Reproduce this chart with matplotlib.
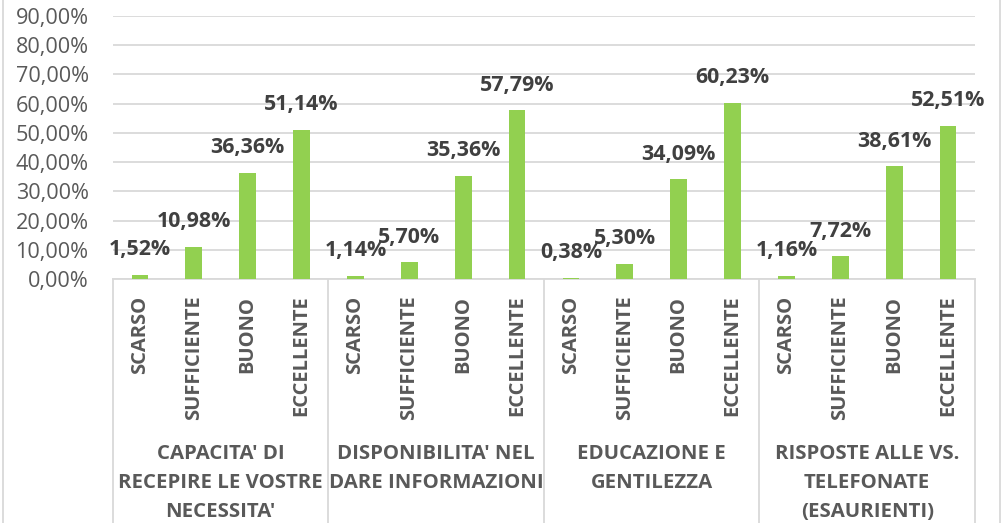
import numpy as np
import matplotlib.pyplot as plt
from matplotlib.lines import Line2D
from matplotlib.ticker import FuncFormatter
from matplotlib.transforms import blended_transform_factory

plt.rcParams['font.family'] = ['Open Sans', 'DejaVu Sans']

# Dati del grafico
gruppi = ["CAPACITA' DI\nRECEPIRE LE VOSTRE\nNECESSITA'",
          "DISPONIBILITA' NEL\nDARE INFORMAZIONI",
          "EDUCAZIONE E\nGENTILEZZA",
          "RISPOSTE ALLE VS.\nTELEFONATE\n(ESAURIENTI)"]
giudizi = ["SCARSO", "SUFFICIENTE", "BUONO", "ECCELLENTE"]
capacita = [1.52, 10.98, 36.36, 51.14]
disponibilita = [1.14, 5.70, 35.36, 57.79]
educazione = [0.38, 5.30, 34.09, 60.23]
risposte = [1.16, 7.72, 38.61, 52.51]

valori = np.array(capacita + disponibilita + educazione + risposte) / 100
etichette = giudizi * len(gruppi)
x = np.arange(len(valori))

verde = "#92D050"
grigio_testo = "#595959"
grigio_linee = "#D9D9D9"

fig = plt.figure(figsize=(10.04, 5.23), dpi=100)
ax = fig.add_axes([113 / 1004, 1 - 279 / 523, 862 / 1004, 263 / 523])

ax.bar(x, valori, width=0.31, color=verde, zorder=3)

# Etichette dei dati
for xi, v in zip(x, valori):
    ax.annotate(f"{v * 100:.2f}%".replace(".", ","), (xi, v),
                xytext=(0, 18), textcoords="offset points",
                ha="center", va="center", fontsize=15.4, fontweight="bold",
                color="#404040", zorder=4)

ax.set_xlim(-0.5, len(valori) - 0.5)
ax.set_ylim(0, 0.9)
ax.set_yticks(np.arange(0, 0.91, 0.1))
ax.yaxis.set_major_formatter(FuncFormatter(lambda v, p: f"{v * 100:.2f}%".replace(".", ",")))
ax.grid(axis="y", color=grigio_linee, linewidth=1.3, zorder=0)
ax.tick_params(axis="y", length=0, pad=17.5, labelsize=15.6, labelcolor=grigio_testo)

ax.set_xticks(x)
ax.set_xticklabels(etichette, rotation=90, fontsize=14.5, fontweight="bold",
                   color=grigio_testo)
ax.tick_params(axis="x", length=0, pad=12)

for s in ["top", "right", "left"]:
    ax.spines[s].set_visible(False)
ax.spines["bottom"].set_color(grigio_linee)
ax.spines["bottom"].set_linewidth(1.3)

# Asse a due livelli: separatori ed etichette dei gruppi
trans = blended_transform_factory(ax.transData, fig.transFigure)
y_asse = 1 - 279 / 523
for b in np.arange(-0.5, len(valori), 4):
    fig.add_artist(Line2D([b, b], [0, y_asse], transform=trans,
                          color=grigio_linee, linewidth=1.3))
for i, g in enumerate(gruppi):
    ax.text(i * 4 + 1.5, 1 - 444 / 523, g, transform=trans, ha="center",
            va="top", fontsize=14.7, fontweight="bold", color=grigio_testo,
            linespacing=1.6)

# Bordo del grafico
for xb in [3 / 1004, 1000 / 1004]:
    fig.add_artist(Line2D([xb, xb], [0, 1], transform=fig.transFigure,
                          color=grigio_linee, linewidth=1.3))

fig.savefig("out.png", dpi=100)
